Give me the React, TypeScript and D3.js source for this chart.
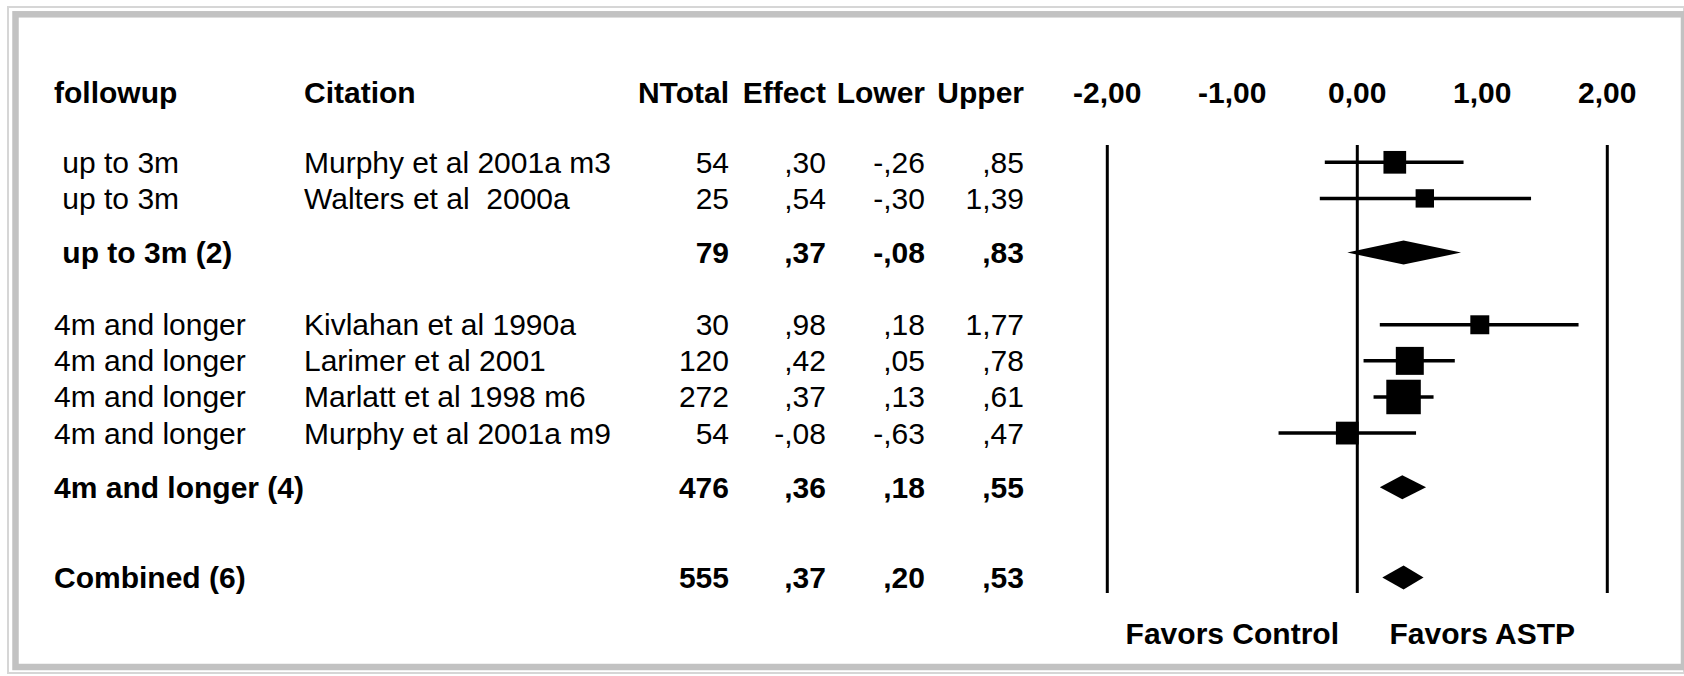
import React from "react";
import * as d3 from "d3";

// ---------- data ----------
const followup = [" up to 3m", " up to 3m", " up to 3m (2)", "4m and longer", "4m and longer", "4m and longer", "4m and longer", "4m and longer (4)", "Combined (6)"];
const citation = ["Murphy et al 2001a m3", "Walters et al  2000a", "", "Kivlahan et al 1990a", "Larimer et al 2001", "Marlatt et al 1998 m6", "Murphy et al 2001a m9", "", ""];
const rowKind = ["study", "study", "summary", "study", "study", "study", "study", "summary", "summary"];
const nTotal = [54, 25, 79, 30, 120, 272, 54, 476, 555];
const effect = [0.30, 0.54, 0.37, 0.98, 0.42, 0.37, -0.08, 0.36, 0.37];
const lower = [-0.26, -0.30, -0.08, 0.18, 0.05, 0.13, -0.63, 0.18, 0.20];
const upper = [0.85, 1.39, 0.83, 1.77, 0.78, 0.61, 0.47, 0.55, 0.53];
const tickValues = [-2, -1, 0, 1, 2];
const refLines = [-2, 0, 2];
const headers = ["followup", "Citation", "NTotal", "Effect", "Lower", "Upper"];
const favorLabels = ["Favors Control", "Favors ASTP"];
const favorAt = [-1, 1];

// ---------- layout ----------
const W = 1684, H = 676;
const FONT = "'Liberation Sans', Arial, Helvetica, sans-serif";
const FS = 30;
const slotGapBefore = [0, 1, 1.5, 2, 1, 1, 1, 1.5, 2.5];
const colLeft = [54, 304];
const colRight = [729, 826, 925, 1024];
const headerBaseline = 103;

const locale = d3.formatLocale({ decimal: ",", thousands: ".", grouping: [3], currency: ["", ""], minus: "-" });
const f2 = locale.format(".2f");
const fmtVal = (v: number) => f2(v).replace(/^(-?)0,/, "$1,");

export default function App() {
  const x = d3.scaleLinear().domain([-2, 2]).range([1107.3, 1607.3]);
  const slots: number[] = [];
  slotGapBefore.reduce((acc, g) => { const s = acc + g; slots.push(s); return s; }, 0);
  const y = d3.scaleLinear().domain([0, 11.5]).range([162.3, 577.5]);
  const size = d3.scalePow().exponent(0.25).domain([0, 1]).range([0, 12.07]);
  const lineTop = 145, lineBottom = 593;
  const dh = 12;

  return (
    <svg width={W} height={H} style={{ position: "absolute", left: 0, top: 0, background: "#fff" }} fontFamily={FONT}>
      <rect x={0} y={0} width={W} height={H} fill="#fff" />
      {/* frame */}
      <rect x={8} y={7} width={W - 8} height={H - 7 - 3} fill="none" stroke="#d6d6d6" strokeWidth={2} />
      <rect x={15.5} y={14.3} width={W - 15.5} height={H - 14.3 - 9} fill="none" stroke="#c2c2c2" strokeWidth={6.5} />

      {/* headers */}
      {headers.map((h, i) => (
        <text key={h} x={i < 2 ? colLeft[i] : colRight[i - 2]} y={headerBaseline} fontSize={FS} fontWeight="bold"
          textAnchor={i < 2 ? "start" : "end"}>{h}</text>
      ))}
      {tickValues.map(t => (
        <text key={t} x={x(t)} y={headerBaseline} fontSize={FS} fontWeight="bold" textAnchor="middle">{f2(t)}</text>
      ))}

      {/* reference lines */}
      {refLines.map(v => (
        <line key={v} x1={x(v)} x2={x(v)} y1={lineTop} y2={lineBottom} stroke="#000" strokeWidth={3} />
      ))}

      {/* rows */}
      {followup.map((f, i) => {
        const cy = y(slots[i]);
        const bold = rowKind[i] === "summary" ? "bold" : "normal";
        const tb = cy + 10.5;
        const vals = [String(nTotal[i]), fmtVal(effect[i]), fmtVal(lower[i]), fmtVal(upper[i])];
        const w = Math.pow(3.92 / (upper[i] - lower[i]), 2);
        const s = size(w);
        return (
          <g key={i}>
            <text x={colLeft[0]} y={tb} fontSize={FS} fontWeight={bold} style={{ whiteSpace: "pre" }}>{f}</text>
            {citation[i] && <text x={colLeft[1]} y={tb} fontSize={FS} fontWeight={bold} style={{ whiteSpace: "pre" }}>{citation[i]}</text>}
            {vals.map((v, j) => (
              <text key={j} x={colRight[j]} y={tb} fontSize={FS} fontWeight={bold} textAnchor="end">{v}</text>
            ))}
            {rowKind[i] === "study" ? (
              <g>
                <line x1={x(lower[i])} x2={x(upper[i])} y1={cy} y2={cy} stroke="#000" strokeWidth={3.5} />
                <rect x={x(effect[i]) - s / 2} y={cy - s / 2} width={s} height={s} fill="#000" />
              </g>
            ) : (
              <polygon points={[[x(lower[i]), cy], [x(effect[i]), cy - dh], [x(upper[i]), cy], [x(effect[i]), cy + dh]].map(p => p.join(",")).join(" ")} fill="#000" />
            )}
          </g>
        );
      })}

      {/* favors labels */}
      {favorLabels.map((l, i) => (
        <text key={l} x={x(favorAt[i])} y={644} fontSize={FS} fontWeight="bold" textAnchor="middle">{l}</text>
      ))}
    </svg>
  );
}
